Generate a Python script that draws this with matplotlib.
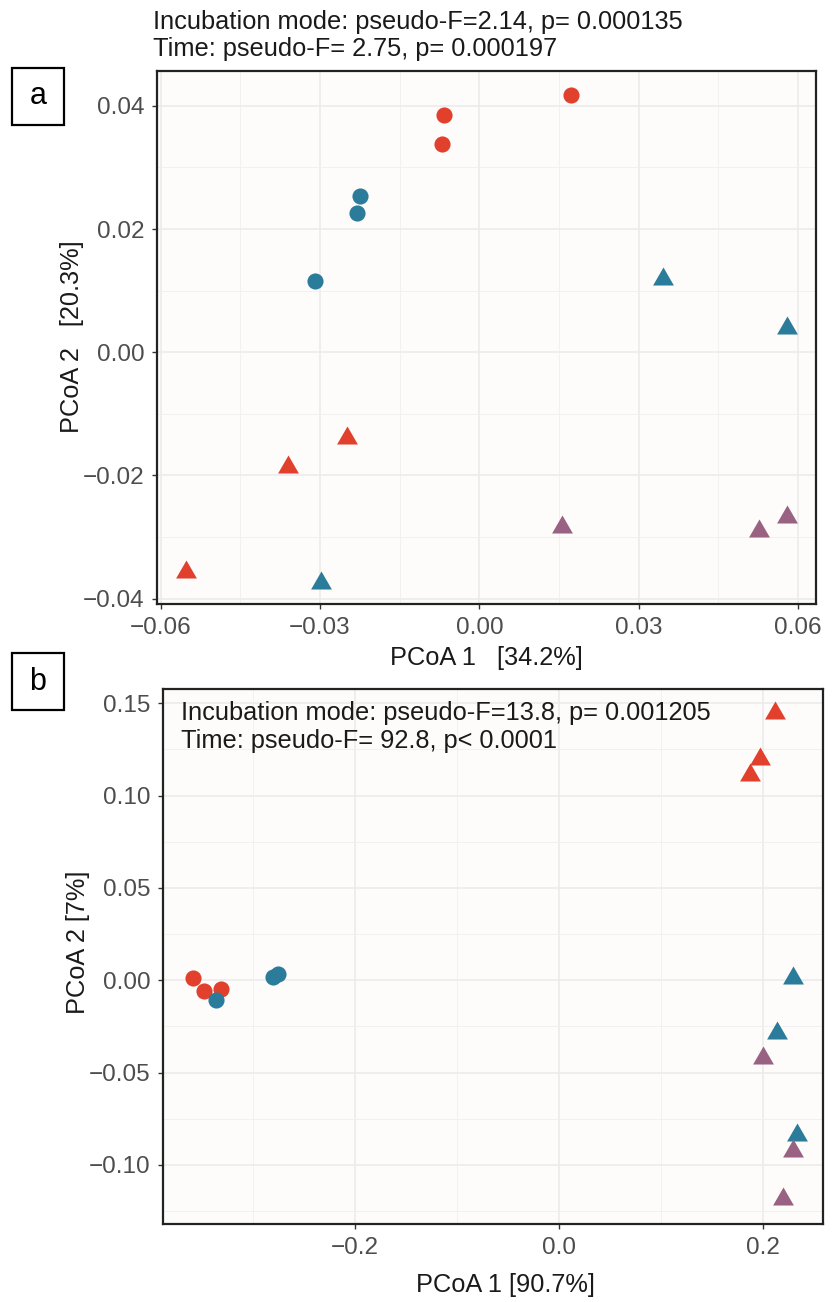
import numpy as np
import matplotlib
matplotlib.use("Agg")
import matplotlib.pyplot as plt
from matplotlib.patches import Rectangle

plt.rcParams['font.family'] = ['Liberation Sans', 'DejaVu Sans']

# colours per group
RED = "#E1402D"
BLUE = "#2B7B9A"
PURPLE = "#9A6282"

# panel a  (PCoA 1 / PCoA 2)
a_red_circ_x = [0.0172, -0.0067, -0.0070]
a_red_circ_y = [0.0417, 0.0385, 0.0338]
a_blue_circ_x = [-0.0224, -0.0230, -0.0310]
a_blue_circ_y = [0.0253, 0.0226, 0.0115]
a_red_tri_x = [-0.0250, -0.0360, -0.0553]
a_red_tri_y = [-0.0140, -0.0186, -0.0357]
a_blue_tri_x = [0.0345, 0.0580, -0.0298]
a_blue_tri_y = [0.0119, 0.0039, -0.0374]
a_purple_tri_x = [0.0155, 0.0527, 0.0580]
a_purple_tri_y = [-0.0284, -0.0291, -0.0267]

# panel b
b_red_circ_x = [-0.3585, -0.3479, -0.3316]
b_red_circ_y = [0.0014, -0.0056, -0.0047]
b_blue_circ_x = [-0.3368, -0.2803, -0.2761]
b_blue_circ_y = [-0.0106, 0.0020, 0.0032]
b_red_tri_x = [0.2117, 0.1970, 0.1870]
b_red_tri_y = [0.1448, 0.1200, 0.1111]
b_blue_tri_x = [0.2295, 0.2137, 0.2338]
b_blue_tri_y = [0.0013, -0.0285, -0.0838]
b_purple_tri_x = [0.2004, 0.2295, 0.2201]
b_purple_tri_y = [-0.0423, -0.0926, -0.1187]

a_xticks = [-0.06, -0.03, 0.00, 0.03, 0.06]
a_yticks = [-0.04, -0.02, 0.00, 0.02, 0.04]
b_xticks = [-0.2, 0.0, 0.2]
b_yticks = [-0.10, -0.05, 0.00, 0.05, 0.10, 0.15]

# equilateral triangle, centroid at the point (like R pch 17)
tri = [(0, 1.1547), (-1, -0.5774), (1, -0.5774), (0, 1.1547)]
S_CIRC = 135
S_TRI = 300
FS = 18.3

W, H = 835, 1302
fig = plt.figure(figsize=(W / 100, H / 100), dpi=100)


def px_axes(l, t, r, b):
    return fig.add_axes([l / W, 1 - b / H, (r - l) / W, (b - t) / H])


def style(ax, xlim, ylim, xt, yt, xfmt, yfmt):
    ax.set_facecolor("#FDFCFB")
    ax.set_xticks(xt)
    ax.set_yticks(yt)
    ax.set_xticklabels([xfmt(v) for v in xt])
    ax.set_yticklabels([yfmt(v) for v in yt])
    # minor grid halfway between majors
    dx = xt[1] - xt[0]
    dy = yt[1] - yt[0]
    ax.set_xticks(np.arange(xt[0] - dx / 2, xlim[1], dx), minor=True)
    ax.set_yticks(np.arange(yt[0] - dy / 2, ylim[1], dy), minor=True)
    ax.set_xlim(*xlim)
    ax.set_ylim(*ylim)
    ax.grid(which="major", color="#EBEBEB", lw=1.1)
    ax.grid(which="minor", color="#F0F0F0", lw=0.6)
    ax.set_axisbelow(True)
    ax.tick_params(which="minor", length=0)
    ax.tick_params(which="major", length=3.5, width=1, color="#333333",
                   labelsize=17.5, labelcolor="#4D4D4D", pad=5.5)
    for s in ax.spines.values():
        s.set_color("#222222")
        s.set_linewidth(1.6)


def fmt2(v):
    s = "%.2f" % v
    return s.replace("-", "\u2212")


def fmt1(v):
    s = "%.1f" % v
    return s.replace("-", "\u2212")


def draw(ax, rcx, rcy, bcx, bcy, rtx, rty, btx, bty, ptx, pty):
    ax.scatter(rcx, rcy, s=S_CIRC, c=RED, marker="o", linewidths=0, zorder=3)
    ax.scatter(bcx, bcy, s=S_CIRC, c=BLUE, marker="o", linewidths=0, zorder=3)
    ax.scatter(rtx, rty, s=S_TRI, c=RED, marker=tri, linewidths=0, zorder=3)
    ax.scatter(btx, bty, s=S_TRI, c=BLUE, marker=tri, linewidths=0, zorder=3)
    ax.scatter(ptx, pty, s=S_TRI, c=PURPLE, marker=tri, linewidths=0, zorder=3)


# ---- panel a
ax1 = px_axes(157, 71, 816, 604)
style(ax1, (-0.0607, 0.0634), (-0.04087, 0.04565), a_xticks, a_yticks, fmt2, fmt2)
draw(ax1, a_red_circ_x, a_red_circ_y, a_blue_circ_x, a_blue_circ_y,
     a_red_tri_x, a_red_tri_y, a_blue_tri_x, a_blue_tri_y,
     a_purple_tri_x, a_purple_tri_y)

fig.text(153 / W, 1 - 22 / H, "Incubation mode: pseudo-F=2.14, p= 0.000135",
         fontsize=FS, va="center", ha="left", color="#1A1A1A")
fig.text(153 / W, 1 - 49 / H, "Time: pseudo-F= 2.75, p= 0.000197",
         fontsize=FS, va="center", ha="left", color="#1A1A1A")
fig.text(486 / W, 1 - 658 / H, "PCoA 1   [34.2%]", fontsize=FS,
         ha="center", va="center", color="#1A1A1A")
fig.text(72 / W, 1 - 337 / H, "PCoA 2   [20.3%]", fontsize=FS,
         ha="center", va="center", rotation=90, color="#1A1A1A")

# ---- panel b
ax2 = px_axes(163, 689, 823, 1224)
style(ax2, (-0.3884, 0.2589), (-0.132, 0.1577), b_xticks, b_yticks, fmt1, fmt2)
draw(ax2, b_red_circ_x, b_red_circ_y, b_blue_circ_x, b_blue_circ_y,
     b_red_tri_x, b_red_tri_y, b_blue_tri_x, b_blue_tri_y,
     b_purple_tri_x, b_purple_tri_y)

fig.text(181 / W, 1 - 713 / H, "Incubation mode: pseudo-F=13.8, p= 0.001205",
         fontsize=FS, va="center", ha="left", color="#1A1A1A")
fig.text(181 / W, 1 - 741 / H, "Time: pseudo-F= 92.8, p< 0.0001",
         fontsize=FS, va="center", ha="left", color="#1A1A1A")
fig.text(505 / W, 1 - 1285 / H, "PCoA 1 [90.7%]", fontsize=FS,
         ha="center", va="center", color="#1A1A1A")
fig.text(78 / W, 1 - 942 / H, "PCoA 2 [7%]", fontsize=FS,
         ha="center", va="center", rotation=90, color="#1A1A1A")

# panel letters in boxes
for lab, (l, t, r, b) in [("a", (12, 68, 64, 125)), ("b", (12, 653, 64, 710))]:
    fig.patches.append(Rectangle((l / W, 1 - b / H), (r - l) / W, (b - t) / H,
                                 transform=fig.transFigure, fill=False,
                                 edgecolor="black", lw=1.6))
    fig.text((l + r) / 2 / W, 1 - (t + b) / 2 / H, lab, fontsize=22,
             ha="center", va="center", color="black")

fig.savefig("out.png", dpi=100)
